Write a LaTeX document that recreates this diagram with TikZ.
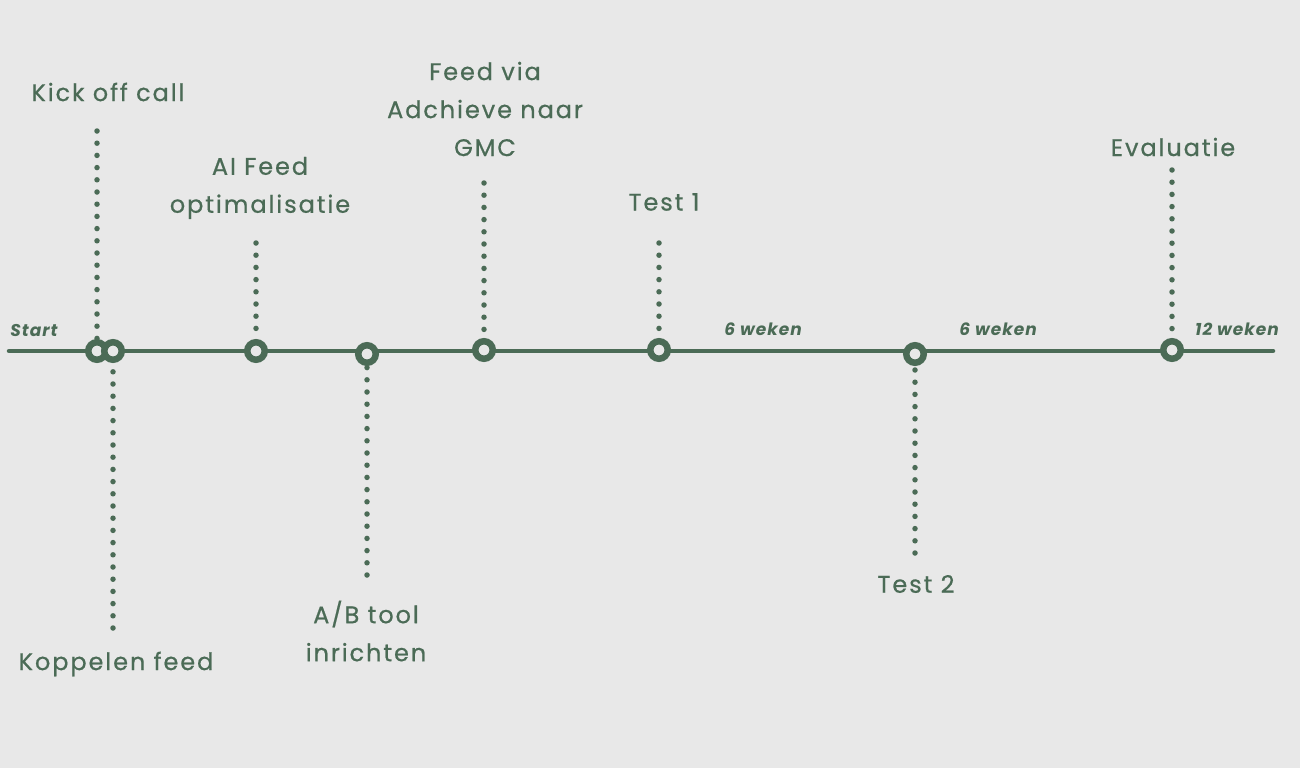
\documentclass[tikz,border=0pt]{standalone}
\usepackage{fontspec}
\setmainfont{Poppins}[LetterSpace=8, FakeBold=0.6]
\newfontfamily\smallfont{Poppins}[LetterSpace=6]
\usetikzlibrary{positioning}

\definecolor{bgrey}{HTML}{E8E8E8}
\definecolor{tlgreen}{HTML}{4B6B56}

\tikzset{
  mijlpaal/.style={circle, draw=tlgreen, fill=bgrey, line width=6.5pt, minimum size=17.5pt, inner sep=0pt},
  stippel/.style={tlgreen, line width=5.5pt, line cap=round, dash pattern=on 0pt off 12.2pt},
  label tekst/.style={text=tlgreen, font=\fontsize{24}{38}\selectfont, align=center},
  duur/.style={text=tlgreen, font=\smallfont\fontsize{17}{18}\selectfont\bfseries\itshape, inner sep=0pt}
}

\begin{document}
\begin{tikzpicture}[x=1pt, y=-1pt]
  % achtergrond
  \fill[bgrey] (0,0) rectangle (1300,768);
  \useasboundingbox (0,0) rectangle (1300,768);

  % tijdlijn
  \coordinate (Begin) at (9,351);
  \coordinate (Eind) at (1273,351);
  \draw[tlgreen, line width=4.5pt, line cap=round] (Begin) -- (Eind);

  % stippellijnen eerst, dan de cirkels erover
  \coordinate (KickTop) at (97,131);
  \coordinate (KoppelBot) at (113,628);
  \coordinate (AITop) at (256,243);
  \coordinate (ABBot) at (367,575);
  \coordinate (FeedTop) at (484,183);
  \coordinate (TestEenTop) at (659,243);
  \coordinate (TestTweeBot) at (915,553);
  \coordinate (EvalTop) at (1172,170);

  \draw[stippel] (KickTop) -- (97,340);
  \draw[stippel] (KoppelBot) -- (113,362);
  \draw[stippel] (AITop) -- (256,340);
  \draw[stippel] (ABBot) -- (367,366);
  \draw[stippel] (FeedTop) -- (484,340);
  \draw[stippel] (TestEenTop) -- (659,340);
  \draw[stippel] (TestTweeBot) -- (915,366);
  \draw[stippel] (EvalTop) -- (1172,340);

  % mijlpalen
  \node[mijlpaal] (Kick) at (97,351) {};
  \node[mijlpaal] (Koppel) at (113,351) {};
  \node[mijlpaal] (AI) at (256,351) {};
  \node[mijlpaal] (AB) at (367,354) {};
  \node[mijlpaal] (Feed) at (484,350) {};
  \node[mijlpaal] (TestEen) at (659,350) {};
  \node[mijlpaal] (TestTwee) at (915,354) {};
  \node[mijlpaal] (Eval) at (1172,350) {};

  % teksten boven
  \node[label tekst] (KickTxt) at (108,92) {Kick off call};
  \node[label tekst] (AITxt) at (260,188) {AI Feed\\optimalisatie};
  \node[label tekst] (FeedTxt) at (485,109) {Feed via\\Adchieve naar\\GMC};
  \node[label tekst] (TestEenTxt) at (664,202) {Test 1};
  \node[label tekst] (EvalTxt) at (1173,147) {Evaluatie};

  % teksten onder
  \node[label tekst] (KoppelTxt) at (116,664) {Koppelen feed};
  \node[label tekst] (ABTxt) at (366,631) {A/B tool\\inrichten};
  \node[label tekst] (TestTweeTxt) at (916,584) {Test 2};

  % duur
  \node[duur] (StartTxt) at (34,331) {Start};
  \node[duur] (DuurEen) at (763,329) {6 weken};
  \node[duur] (DuurTwee) at (998,329) {6 weken};
  \node[duur] (DuurDrie) at (1237,329) {12 weken};
\end{tikzpicture}
\end{document}
